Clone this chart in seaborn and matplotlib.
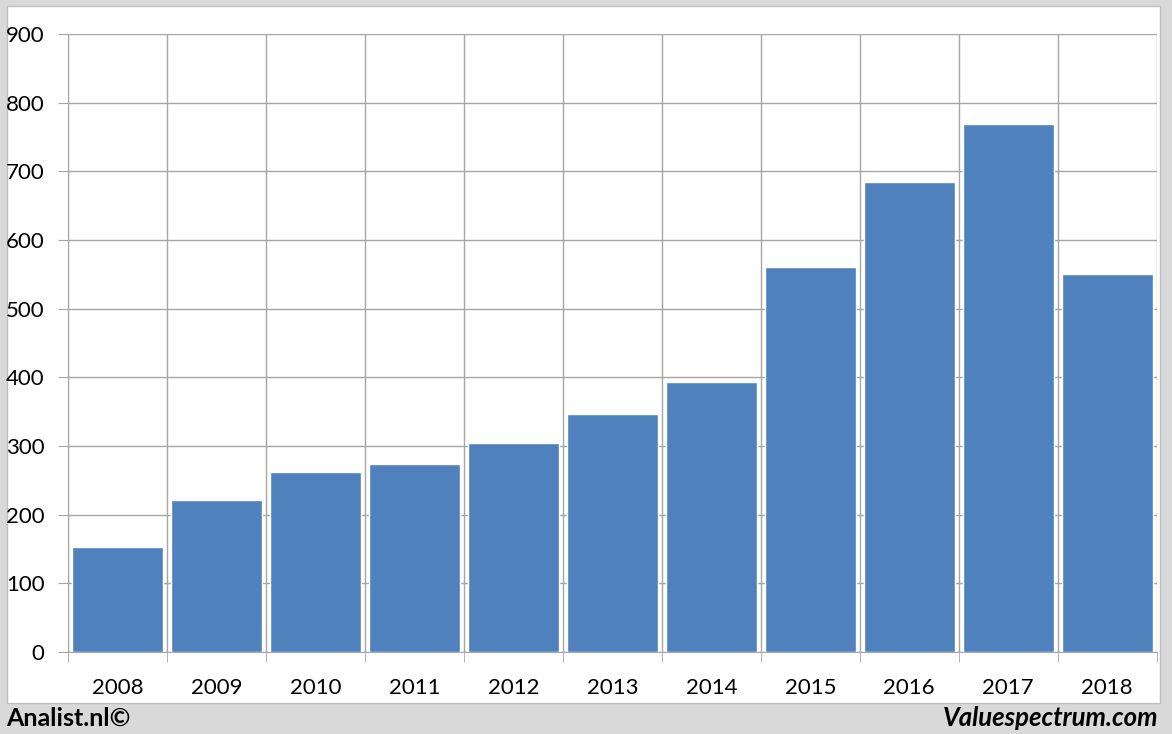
import matplotlib
matplotlib.use('Agg')
import matplotlib.pyplot as plt
import matplotlib.patches as mpatches
import numpy as np
import pandas as pd
import seaborn as sns

# Chart data
years = ['2008', '2009', '2010', '2011', '2012', '2013', '2014', '2015', '2016', '2017', '2018']
values = [153, 221, 262, 274, 304, 347, 393, 561, 684, 769, 550]

df = pd.DataFrame({'year': years, 'value': values})

sns.set_style('white')
plt.rcParams['font.family'] = ['Lato', 'DejaVu Sans']
plt.rcParams['text.color'] = 'black'
plt.rcParams['xtick.color'] = 'black'
plt.rcParams['ytick.color'] = 'black'

fig = plt.figure(figsize=(11.72, 7.34), dpi=100, facecolor='#d9d9d9')
# white chart panel behind the axes
panel = mpatches.Rectangle((0.006, 0.042), 0.984, 0.95, transform=fig.transFigure,
                           facecolor='white', edgecolor='#bfbfbf', lw=1, zorder=-5)
fig.add_artist(panel)

ax = fig.add_axes([0.058, 0.1117, 0.929, 0.842])
ax.set_facecolor('none')
sns.barplot(data=df, x='year', y='value', color='#4f81bd', width=0.92, saturation=1, ax=ax, zorder=3)

ax.set_xlim(-0.5, len(years) - 0.5)
ax.set_ylim(0, 900)
ax.set_yticks(np.arange(0, 901, 100))
ax.set_xticks(np.arange(-0.5, len(years)), minor=True)
ax.set_axisbelow(True)
ax.grid(True, axis='y', color='#a6a6a6', lw=1)
ax.grid(True, axis='x', which='minor', color='#a6a6a6', lw=1)
ax.tick_params(axis='x', which='major', length=0, labelsize=16, pad=19)
ax.tick_params(axis='x', which='minor', length=7, color='#a6a6a6', direction='out', bottom=True)
ax.tick_params(axis='y', length=7, color='#a6a6a6', labelsize=16, pad=10, left=True)
for s in ['top', 'right']:
    ax.spines[s].set_visible(False)
for s in ['left', 'bottom']:
    ax.spines[s].set_color('#a6a6a6')
ax.set_xlabel('')
ax.set_ylabel('')

fig.text(0.005, 0.022, 'Analist.nl©', fontsize=18, fontweight='bold', va='center', ha='left')
fig.text(0.988, 0.022, 'Valuespectrum.com', fontsize=18.5, fontweight='bold', fontstyle='italic',
         va='center', ha='right')

fig.savefig('out.png', dpi=100, facecolor=fig.get_facecolor())
